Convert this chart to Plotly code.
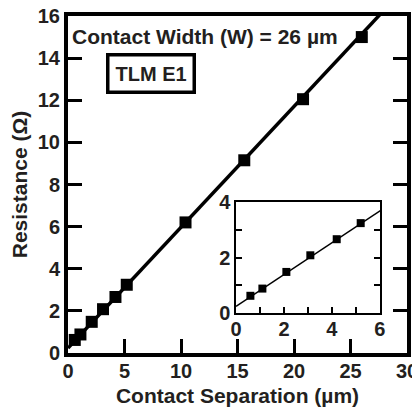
import plotly.graph_objects as go

# Data
separation_um = [0.6, 1.1, 2.1, 3.1, 4.2, 5.2, 10.4, 15.6, 20.8, 26.0]
resistance_ohm = [0.62, 0.88, 1.48, 2.08, 2.66, 3.24, 6.2, 9.15, 12.05, 15.0]
fit_x = [0.0, 30.0]
fit_y = [0.24, 17.44]

inset_sep = [0.6, 1.1, 2.1, 3.1, 4.2, 5.2]
inset_res = [0.62, 0.88, 1.48, 2.08, 2.66, 3.24]

main_xticks = [0, 5, 10, 15, 20, 25, 30]
main_yticks = [0, 2, 4, 6, 8, 10, 12, 14, 16]
inset_xticks = [0, 2, 4, 6]
inset_yticks = [0, 2, 4]

FONT = "Liberation Sans, Arial, sans-serif"
INK = "#231f20"
tickfont = dict(family=FONT, size=20, color=INK, weight="bold")
titlefont = dict(family=FONT, size=21, color=INK, weight="bold")

fig = go.Figure()
fig.add_trace(go.Scatter(x=fit_x, y=fit_y, mode="lines",
                         line=dict(color="black", width=3.5), showlegend=False,
                         xaxis="x", yaxis="y"))
fig.add_trace(go.Scatter(x=separation_um, y=resistance_ohm, mode="markers",
                         marker=dict(symbol="square", size=12, color="black"),
                         showlegend=False, xaxis="x", yaxis="y"))
fig.add_trace(go.Scatter(x=fit_x, y=fit_y, mode="lines",
                         line=dict(color="black", width=1.5), showlegend=False,
                         xaxis="x2", yaxis="y2"))
fig.add_trace(go.Scatter(x=inset_sep, y=inset_res, mode="markers",
                         marker=dict(symbol="square", size=8, color="black"),
                         showlegend=False, xaxis="x2", yaxis="y2"))

common = dict(showgrid=False, zeroline=False, automargin=False,
              ticklabeloverflow="allow",
              tickcolor="black", linecolor="black", showline=True, tickfont=tickfont)

fig.update_layout(
    template="none",
    width=412, height=408,
    margin=dict(l=60, r=13, t=8, b=63),
    paper_bgcolor="white", plot_bgcolor="white",
    font=dict(family=FONT, color=INK),
    xaxis=dict(range=[0, 30], tickvals=main_xticks, ticks="inside", ticklen=14,
               tickwidth=3, linewidth=4, mirror=True, ticklabelstandoff=-3,
               title=dict(text="Contact Separation (\u00b5m)", standoff=8, font=titlefont),
               **common),
    yaxis=dict(range=[0, 16], tickvals=main_yticks, ticks="inside", ticklen=14,
               tickwidth=3, linewidth=4, mirror="ticks",
               title=dict(text="Resistance (\u03a9)", standoff=10, font=titlefont),
               **common),
    xaxis2=dict(domain=[0.4956, 0.920], anchor="y2", range=[0, 6],
                tickvals=inset_xticks, ticks="inside", ticklen=6, tickwidth=1.5,
                linewidth=1.5, mirror=True, ticklabelstandoff=-3,
                minor=dict(dtick=1, ticks="inside", ticklen=6, tickwidth=1.5,
                           tickcolor="black", showgrid=False),
                **common),
    yaxis2=dict(domain=[0.1187, 0.448], anchor="x2", range=[0, 4],
                tickvals=inset_yticks, ticks="inside", ticklen=6, tickwidth=1.5,
                linewidth=1.5, mirror="ticks",
                minor=dict(dtick=1, ticks="inside", ticklen=6, tickwidth=1.5,
                           tickcolor="black", showgrid=False),
                **common),
    annotations=[
        dict(text="Contact Width (W) = 26 \u00b5m", xref="paper", yref="paper",
             x=0.006, y=0.9398, xanchor="left", yanchor="middle", showarrow=False,
             font=dict(family=FONT, size=21, weight="bold", color=INK)),
        dict(text="TLM E1", xref="paper", yref="paper", x=0.2463, y=0.8288,
             xanchor="center", yanchor="middle", showarrow=False,
             bordercolor="black", borderwidth=3.5, borderpad=6, bgcolor="white",
             font=dict(family=FONT, size=20, weight="bold", color=INK)),
    ],
)

fig.write_html("out.html")
